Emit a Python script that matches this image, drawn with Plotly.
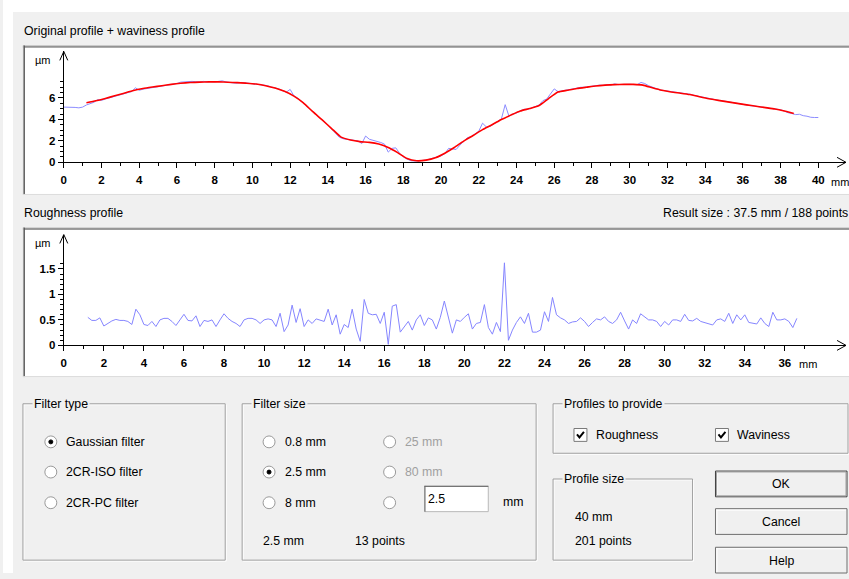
import numpy as np
import plotly.graph_objects as go

W, H = 849, 579

# ---------------- data ----------------
# Original profile: 201 points, one every 0.2 mm over 40 mm (µm)
profile_x = np.round(np.arange(0, 40.01, 0.2), 1)
profile_um = [
    5.15, 5.16, 5.15, 5.12, 5.08, 5.15, 5.35, 5.50, 5.60, 5.85,
    5.78, 5.90, 6.00, 6.12, 6.18, 6.30, 6.40, 6.52, 6.60, 6.95,
    6.72, 6.82, 6.88, 6.95, 7.00, 7.05, 7.15, 7.22, 7.25, 7.30,
    7.35, 7.48, 7.52, 7.50, 7.55, 7.52, 7.50, 7.55, 7.50, 7.52,
    7.50, 7.55, 7.60, 7.50, 7.42, 7.40, 7.38, 7.45, 7.42, 7.38,
    7.35, 7.30, 7.25, 7.20, 7.15, 7.02, 6.95, 6.85, 6.68, 6.55,
    6.80, 6.20, 6.00, 5.72, 5.38, 5.05, 4.72, 4.38, 4.05, 3.78,
    3.50, 3.10, 2.70, 2.35, 2.20, 2.15, 2.10, 2.05, 2.00, 1.75,
    2.45, 2.15, 2.05, 2.00, 1.85, 1.70, 0.95, 1.30, 1.35, 0.85,
    0.50, 0.30, 0.15, 0.12, 0.15, 0.12, 0.20, 0.30, 0.40, 0.50,
    0.60, 0.80, 1.30, 1.25, 1.20, 1.60, 2.00, 2.30, 2.40, 2.65,
    2.90, 3.65, 3.30, 3.35, 3.60, 3.85, 4.05, 5.38, 4.30, 4.50,
    4.60, 4.80, 4.95, 4.95, 5.05, 5.20, 5.35, 5.75, 5.90, 6.35,
    6.85, 6.60, 6.65, 6.70, 6.80, 6.85, 6.92, 7.00, 7.00, 7.05,
    7.12, 7.15, 7.20, 7.18, 7.25, 7.20, 7.32, 7.25, 7.28, 7.25,
    7.28, 7.25, 7.25, 7.45, 7.35, 7.15, 7.00, 6.90, 6.75, 6.70,
    6.62, 6.60, 6.55, 6.50, 6.50, 6.40, 6.35, 6.25, 6.18, 6.08,
    6.00, 5.92, 5.90, 5.80, 5.75, 5.72, 5.65, 5.60, 5.50, 5.50,
    5.40, 5.35, 5.28, 5.25, 5.20, 5.15, 5.15, 5.05, 5.05, 4.95,
    4.90, 4.78, 4.62, 4.55, 4.45, 4.48, 4.35, 4.30, 4.20, 4.18,
    4.18,
]

# Waviness profile (Gaussian filter, 2.5 mm cut-off), one value every 0.5 mm
waviness_x = np.round(np.arange(1.2, 38.71, 0.5), 1)
waviness_um = [
    5.56, 5.74, 5.96, 6.20, 6.45, 6.70, 6.88, 7.02, 7.15, 7.27,
    7.37, 7.44, 7.48, 7.50, 7.50, 7.47, 7.43, 7.38, 7.30, 7.15,
    6.93, 6.62, 6.18, 5.55, 4.72, 3.95, 3.15, 2.35, 2.08, 1.93,
    1.86, 1.70, 1.38, 0.90, 0.35, 0.14, 0.20, 0.42, 0.85, 1.38,
    1.98, 2.50, 3.05, 3.50, 4.00, 4.40, 4.78, 5.02, 5.30, 5.95,
    6.55, 6.72, 6.88, 7.00, 7.12, 7.20, 7.25, 7.27, 7.27, 7.20,
    6.95, 6.72, 6.56, 6.45, 6.32, 6.12, 5.93, 5.78, 5.64, 5.50,
    5.36, 5.23, 5.10, 4.97, 4.78, 4.55,
]

# Roughness profile, one value every 0.2 mm (µm)
roughness_x = np.round(np.arange(1.2, 36.61, 0.2), 1)
roughness_um = [
    0.55, 0.49, 0.49, 0.54, 0.38, 0.43, 0.48, 0.51, 0.49, 0.49,
    0.47, 0.41, 0.71, 0.60, 0.41, 0.39, 0.47, 0.37, 0.50, 0.53,
    0.53, 0.47, 0.39, 0.50, 0.61, 0.49, 0.48, 0.58, 0.37, 0.49,
    0.47, 0.50, 0.37, 0.50, 0.62, 0.53, 0.47, 0.43, 0.37, 0.50,
    0.53, 0.53, 0.50, 0.43, 0.50,
    0.52, 0.50, 0.37, 0.63, 0.27, 0.40, 0.79, 0.45, 0.72, 0.37,
    0.50, 0.43, 0.52, 0.50, 0.47, 0.71, 0.40, 0.60, 0.22, 0.41,
    0.35, 0.71, 0.32, 0.08, 0.90, 0.63, 0.60, 0.61, 0.43, 0.65,
    0.02, 0.77, 0.80, 0.26, 0.37, 0.47, 0.30, 0.50, 0.60, 0.39,
    0.54, 0.50, 0.32, 0.55, 0.87, 0.55, 0.24, 0.50, 0.47, 0.55,
    0.62, 0.32, 0.43, 0.45, 0.80, 0.35, 0.22, 0.45, 0.27, 1.62,
    0.10, 0.30, 0.45, 0.56, 0.43, 0.63, 0.26, 0.26, 0.30, 0.66,
    0.47, 0.94, 0.60, 0.54, 0.50, 0.43, 0.46, 0.47, 0.54, 0.47,
    0.37, 0.45, 0.52, 0.50, 0.56, 0.47, 0.43, 0.50, 0.65, 0.48,
    0.32, 0.50, 0.43, 0.62, 0.56, 0.50, 0.50, 0.47, 0.37, 0.47,
    0.40, 0.50, 0.50, 0.47, 0.61, 0.49, 0.48, 0.53, 0.47, 0.45,
    0.42, 0.40, 0.50, 0.52, 0.47, 0.63, 0.43, 0.60, 0.50, 0.60,
    0.45, 0.43, 0.42, 0.54, 0.43, 0.37, 0.65, 0.50, 0.50, 0.52,
    0.47, 0.35, 0.53,
]

top_xticks = list(range(0, 41, 2))
top_xminor = list(range(1, 40, 2))
top_yticks = [0, 2, 4, 6]
top_yminor = [v / 2 for v in range(0, 16)]
bot_xticks = list(range(0, 37, 2))
bot_xminor = list(range(1, 38, 2))
bot_yticks = [0, 0.5, 1, 1.5]
bot_ytext = ["0", "0.5", "1", "1.5"]
bot_yminor = [v / 10 for v in range(0, 17)]

# ---------------- helpers (pixel -> paper) ----------------
UI_FONT = "Liberation Sans"
UI_SIZE = 12.3
BG = "#f0f0f0"


def fx(px):
    return px / W


def fy(py):
    return 1 - py / H


shapes = []
annotations = []


def rect(x0, y0, x1, y1, fill=None, line=None, width=1, layer="below"):
    shapes.append(dict(
        type="rect", xref="paper", yref="paper",
        x0=fx(x0), x1=fx(x1), y0=fy(y0), y1=fy(y1),
        fillcolor=fill if fill else "rgba(0,0,0,0)",
        line=dict(color=line if line else "rgba(0,0,0,0)", width=width if line else 0),
        layer=layer))


def seg(x0, y0, x1, y1, color, width=1, layer="below"):
    shapes.append(dict(
        type="line", xref="paper", yref="paper",
        x0=fx(x0), x1=fx(x1), y0=fy(y0), y1=fy(y1),
        line=dict(color=color, width=width), layer=layer))


def polyline(points, color, width=1):
    d = "M " + " L ".join(f"{fx(px):.5f},{fy(py):.5f}" for px, py in points)
    shapes.append(dict(type="path", xref="paper", yref="paper", path=d,
                       line=dict(color=color, width=width), layer="above"))


def circle(cx, cy, r, fill, line, width=1):
    shapes.append(dict(
        type="circle", xref="paper", yref="paper",
        x0=fx(cx - r), x1=fx(cx + r), y0=fy(cy + r), y1=fy(cy - r),
        fillcolor=fill, line=dict(color=line, width=width), layer="above"))


def label(px, py, text, color="#000000", size=UI_SIZE, anchor="left", bg=None):
    annotations.append(dict(
        x=fx(px), y=fy(py), xref="paper", yref="paper", text=text,
        showarrow=False, xanchor=anchor, yanchor="middle",
        font=dict(family=UI_FONT, size=size, color=color),
        bgcolor=bg if bg else "rgba(0,0,0,0)", borderpad=1))


def group_box(x0, y0, x1, y1, title):
    # etched frame: white line offset under a grey one
    rect(x0 + 1, y0 + 1, x1 + 1, y1 + 1, line="#ffffff")
    rect(x0, y0, x1, y1, line="#a0a0a0")
    label(x0 + 9, y0, title, bg=BG)


def radio(cx, cy, selected=False):
    circle(cx, cy, 6, "#ffffff", "#9a9a9a")
    if selected:
        circle(cx, cy, 2, "#000000", "#000000")


def checkbox(x0, y0):
    rect(x0, y0, x0 + 13, y0 + 13, fill="#ffffff", line="#7a7a7a", layer="above")
    polyline([(x0 + 3, y0 + 6), (x0 + 5.5, y0 + 9), (x0 + 10, y0 + 3.5)], "#000000", 2)


def button(x0, y0, x1, y1, text, default=False):
    rect(x0, y0, x1, y1, fill=BG, line="#3c3c3c" if default else "#6e6e6e")
    seg(x0 + 1, y0 + 1.5, x1 - 1, y0 + 1.5, "#ffffff")
    seg(x0 + 1.5, y0 + 1, x0 + 1.5, y1 - 1, "#ffffff")
    if default:
        rect(x0 + 1, y0 + 1, x1 - 1, y1 - 1, line="#a0a0a0")
    label((x0 + x1) / 2, (y0 + y1) / 2 + 0.5, text, anchor="center")


# ---------------- dialog background ----------------
rect(0, 0, W, 12, fill="#ffffff")
rect(0, 0, 10, H, fill="#ffffff")

# sunken white frames behind the two charts
for (t, b) in [(46, 197), (230, 381)]:
    rect(20, t, W + 2, b, fill="#ffffff")
    seg(20, t + 0.5, W, t + 0.5, "#9a9a9a")
    seg(20, t + 1.5, W, t + 1.5, "#5a5a5a")
    seg(20.5, t, 20.5, b, "#9a9a9a")
    seg(21.5, t, 21.5, b, "#5a5a5a")
    seg(20, b - 0.5, W, b - 0.5, "#dcdcdc")

label(19, 31, "Original profile + waviness profile")
label(19, 215, "Roughness profile")
label(660, 215, "Result size : 37.5 mm / 188 points")

# unit labels and open arrow heads on both charts
for (top, zero, mm_x, mm_y) in [(52, 164, 829, 184), (237, 349, 797, 368)]:
    label(30, top + 9, "µm", size=11)
    label(mm_x, mm_y, "mm", size=11)
    polyline([(57, top + 9), (61, top), (65, top + 9)], "#000000", 1)
    polyline([(837, zero - 5), (846, zero), (837, zero + 5)], "#000000", 1)

# ---------------- filter controls ----------------
group_box(20, 408, 223, 566, "Filter type")
radio(48, 446.5, True)
label(61, 446.5, "Gaussian filter")
radio(48, 477)
label(61, 477, "2CR-ISO filter")
radio(48, 508)
label(61, 508, "2CR-PC filter")

group_box(240, 408, 535, 566, "Filter size")
radio(267, 446.5)
label(281, 446.5, "0.8 mm")
radio(267, 477, True)
label(281, 477, "2.5 mm")
radio(267, 508)
label(281, 508, "8 mm")
radio(388, 446.5)
label(401, 446.5, "25 mm", color="#a0a0a0")
radio(388, 477)
label(401, 477, "80 mm", color="#a0a0a0")
radio(388, 508)
rect(423, 491, 487, 517, fill="#ffffff", line="#b8b8b8")
seg(423, 491.5, 487, 491.5, "#6a6a6a")
seg(423.5, 491, 423.5, 517, "#6a6a6a")
label(425, 504, "2.5")
label(500, 507, "mm")
label(259, 546.5, "2.5 mm")
label(351, 546.5, "13 points")

group_box(552, 408, 848, 458, "Profiles to provide")
checkbox(573, 433)
label(593, 439.5, "Roughness")
checkbox(715, 433)
label(735, 439.5, "Waviness")

group_box(552, 484, 692, 566, "Profile size")
label(572, 522.5, "40 mm")
label(572, 547, "201 points")

button(715, 476, 847, 502, "OK", default=True)
button(715, 514, 847, 540, "Cancel")
button(715, 553, 847, 579, "Help")

# ---------------- charts ----------------
fig = go.Figure()
fig.add_trace(go.Scatter(x=profile_x, y=profile_um, mode="lines",
                         line=dict(color="#8c8cff", width=1),
                         xaxis="x", yaxis="y", hoverinfo="skip"))
fig.add_trace(go.Scatter(x=waviness_x, y=waviness_um, mode="lines",
                         line=dict(color="#ff0000", width=1.6, shape="spline", smoothing=0.5),
                         xaxis="x", yaxis="y", hoverinfo="skip"))
fig.add_trace(go.Scatter(x=roughness_x, y=roughness_um, mode="lines",
                         line=dict(color="#8585ff", width=1),
                         xaxis="x2", yaxis="y2", hoverinfo="skip"))

tick_font = dict(family=UI_FONT, size=11.5, color="#000000", weight="bold")
axis_common = dict(showline=True, linecolor="#000000", linewidth=1,
                   ticks="outside", tickcolor="#000000", tickwidth=1, ticklen=5,
                   showgrid=False, zeroline=False, tickfont=tick_font,
                   fixedrange=True)

TOP_SCALE = 18.93   # px per mm on the upper chart
BOT_SCALE = 20.1    # px per mm on the lower chart

fig.update_layout(
    width=W, height=H, autosize=False,
    margin=dict(l=0, r=0, t=0, b=0),
    paper_bgcolor=BG, plot_bgcolor="rgba(0,0,0,0)",
    showlegend=False,
    shapes=shapes, annotations=annotations,
    xaxis=dict(domain=[fx(61), fx(846)], range=[0, (846 - 61) / TOP_SCALE], anchor="y",
               tickvals=top_xticks, ticktext=[str(v) for v in top_xticks],
               ticklabelstandoff=2,
               minor=dict(tickmode="array", tickvals=top_xminor, ticks="outside",
                          ticklen=3, tickcolor="#000000", showgrid=False),
               **axis_common),
    yaxis=dict(domain=[fy(164), fy(52)], range=[0, (164 - 52) / 10.83], anchor="x",
               tickvals=top_yticks, ticktext=[str(v) for v in top_yticks],
               minor=dict(tickmode="array", tickvals=top_yminor, ticks="outside",
                          ticklen=3, tickcolor="#000000", showgrid=False),
               **axis_common),
    xaxis2=dict(domain=[fx(61), fx(846)], range=[0, (846 - 61) / BOT_SCALE], anchor="y2",
                tickvals=bot_xticks, ticktext=[str(v) for v in bot_xticks],
                ticklabelstandoff=2,
                minor=dict(tickmode="array", tickvals=bot_xminor, ticks="outside",
                           ticklen=3, tickcolor="#000000", showgrid=False),
                **axis_common),
    yaxis2=dict(domain=[fy(349), fy(237)], range=[0, (349 - 237) / 51.5], anchor="x2",
                tickvals=bot_yticks, ticktext=bot_ytext,
                minor=dict(tickmode="array", tickvals=bot_yminor, ticks="outside",
                           ticklen=3, tickcolor="#000000", showgrid=False),
                **axis_common),
)

fig.write_html("out.html")
